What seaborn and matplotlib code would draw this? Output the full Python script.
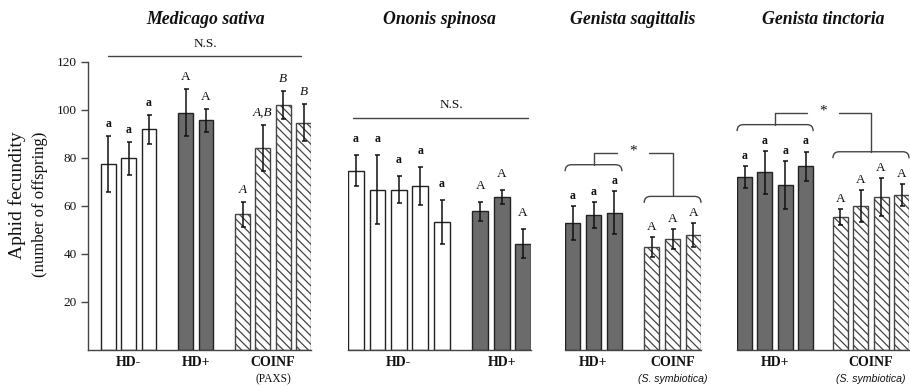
import numpy as np
import pandas as pd
import matplotlib
matplotlib.use("Agg")
import matplotlib.pyplot as plt
from matplotlib.path import Path
from matplotlib.patches import PathPatch
import seaborn as sns

# ---------------- data ----------------
titles = ["Medicago sativa", "Ononis spinosa", "Genista sagittalis", "Genista tinctoria"]
coinf_notes = ["(PAXS)", "(S. symbiotica)"]
ytick_values = [20, 40, 60, 80, 100, 120]
ylabel_lines = ["Aphid fecundity", "(number of offspring)"]
ns_text = "N.S."
sig_text = "*"

# Medicago sativa
ms_hdm = [77.5, 79.9, 92.0]
ms_hdm_err = [11.7, 6.8, 6.0]
ms_hdm_let = ["a", "a", "a"]
ms_hdp = [98.9, 95.7]
ms_hdp_err = [9.7, 4.9]
ms_hdp_let = ["A", "A"]
ms_coinf = [56.5, 84.2, 102.0, 94.7]
ms_coinf_err = [5.3, 9.7, 5.9, 7.7]
ms_coinf_let = ["A", "A,B", "B", "B"]

# Ononis spinosa
os_hdm = [74.7, 66.8, 66.8, 68.2, 53.2]
os_hdm_err = [6.5, 14.5, 5.6, 7.9, 9.2]
os_hdm_let = ["a", "a", "a", "a", "a"]
os_hdp = [57.8, 63.8, 44.3]
os_hdp_err = [4.0, 2.8, 6.0]
os_hdp_let = ["A", "A", "A"]

# Genista sagittalis
gs_hdp = [53.0, 56.3, 57.2]
gs_hdp_err = [7.1, 5.5, 9.0]
gs_hdp_let = ["a", "a", "a"]
gs_coinf = [43.0, 46.3, 47.9]
gs_coinf_err = [4.2, 4.2, 5.1]
gs_coinf_let = ["A", "A", "A"]

# Genista tinctoria
gt_hdp = [72.1, 74.0, 68.8, 76.5]
gt_hdp_err = [4.6, 8.9, 9.9, 6.1]
gt_hdp_let = ["a", "a", "a", "a"]
gt_coinf = [55.4, 59.9, 63.8, 64.6]
gt_coinf_err = [3.3, 6.6, 7.8, 4.4]
gt_coinf_let = ["A", "A", "A", "A"]

# ---------------- style ----------------
sns.set_style("white")
plt.rcParams["font.family"] = ["Liberation Serif", "DejaVu Serif"]
plt.rcParams["hatch.linewidth"] = 0.9
plt.rcParams["hatch.color"] = "#555555"

INK = "#111111"
LINE = "#444444"
BAR_W = 0.73
STYLE = {
    "HD-": dict(color="white", hatch=None, edge="#222222"),
    "HD+": dict(color="#6b6b6b", hatch=None, edge="#222222"),
    "COINF": dict(color="white", hatch="\\\\\\\\", edge="#444444"),
}

W, H = 910, 387
fig = plt.figure(figsize=(W / 100, H / 100), dpi=100)

panels = [
    dict(title=titles[0],
         groups=[("HD-", ms_hdm, ms_hdm_err, ms_hdm_let),
                 ("HD+", ms_hdp, ms_hdp_err, ms_hdp_let),
                 ("COINF", ms_coinf, ms_coinf_err, ms_coinf_let)],
         note=coinf_notes[0], left=88, width=223, lpad=1.0, gap=0.8, let_off=5.0,
         yaxis=True, ns=dict(y=122.5, ty=127.3, x0=0.0, x1=9.45, tx=4.75),
         sig=False, italic=("COINF",)),
    dict(title=titles[1],
         groups=[("HD-", os_hdm, os_hdm_err, os_hdm_let),
                 ("HD+", os_hdp, os_hdp_err, os_hdp_let)],
         note=None, left=348, width=183, lpad=0.37, gap=0.8, let_off=6.7,
         yaxis=False, ns=dict(y=96.7, ty=102.2, x0=-0.13, x1=8.04, tx=4.45),
         sig=False, italic=()),
    dict(title=titles[2],
         groups=[("HD+", gs_hdp, gs_hdp_err, gs_hdp_let),
                 ("COINF", gs_coinf, gs_coinf_err, gs_coinf_let)],
         note=coinf_notes[1], left=565, width=136, lpad=0.37, gap=0.8, let_off=4.2,
         yaxis=False, ns=None, sig=True, italic=()),
    dict(title=titles[3],
         groups=[("HD+", gt_hdp, gt_hdp_err, gt_hdp_let),
                 ("COINF", gt_coinf, gt_coinf_err, gt_coinf_let)],
         note=coinf_notes[1], left=737, width=172, lpad=0.37, gap=0.7, let_off=4.3,
         yaxis=False, ns=None, sig=True, italic=()),
]


def brace(ax, x0, x1, y, drop, r):
    verts = [(x0, y - drop), (x0, y), (x0 + r, y), (x1 - r, y), (x1, y), (x1, y - drop)]
    codes = [Path.MOVETO, Path.CURVE3, Path.CURVE3, Path.LINETO, Path.CURVE3, Path.CURVE3]
    ax.add_patch(PathPatch(Path(verts, codes), fill=False, edgecolor=LINE, lw=1.0,
                           clip_on=False))


for P in panels:
    ax = fig.add_axes([P["left"] / W, (H - 350) / H, P["width"] / W, 288 / H])
    ax.patch.set_alpha(0)
    start = 0.0
    centres, edges = [], []
    for kind, vals, errs, lets in P["groups"]:
        pos = start + np.arange(len(vals))
        df = pd.DataFrame({"pos": pos, "value": vals})
        st = STYLE[kind]
        sns.barplot(data=df, x="pos", y="value", native_scale=True, orient="x",
                    width=BAR_W, color=st["color"], saturation=1, errorbar=None,
                    edgecolor=st["edge"], linewidth=1.0, hatch=st["hatch"], ax=ax)
        ax.errorbar(pos, vals, yerr=errs, fmt="none", ecolor=INK, elinewidth=1.1,
                    capsize=1.8, capthick=1.1, zorder=4, clip_on=False)
        for x, v, e, t in zip(pos, vals, errs, lets):
            low = t.islower()
            ax.text(x, v + e + P["let_off"], t, ha="center", va="center",
                    fontsize=8.5 if low else 9.5,
                    fontweight="bold" if low else "normal",
                    fontstyle="italic" if kind in P["italic"] else "normal",
                    color=INK, clip_on=False)
        c = pos.mean()
        centres.append(c)
        edges.append((pos[0] - BAR_W / 2, pos[-1] + BAR_W / 2,
                      max(v + e for v, e in zip(vals, errs))))
        # group label
        ax.text(c, -5.0, kind, ha="center", va="center", fontsize=10,
                fontweight="bold", color=INK, clip_on=False)
        if kind == "COINF" and P["note"]:
            if P["note"] == coinf_notes[0]:
                ax.text(c, -12.0, P["note"], ha="center", va="center", fontsize=8.3,
                        color=INK, clip_on=False)
            else:
                ax.text(c, -12.0, P["note"], ha="center", va="center", fontsize=7.6,
                        fontstyle="italic",
                        family=["Liberation Sans", "DejaVu Sans"],
                        color=INK, clip_on=False)
        start = pos[-1] + 1 + P["gap"]

    x_lo, x_hi = -P["lpad"], edges[-1][1]
    ax.set_xlim(x_lo, x_hi)
    ax.set_ylim(0, 120)
    ax.set_xlabel("")
    ax.set_ylabel("")
    ax.set_xticks([])
    for s in ["top", "right"]:
        ax.spines[s].set_visible(False)
    ax.spines["bottom"].set_color(LINE)
    ax.spines["bottom"].set_linewidth(1.0)
    if P["yaxis"]:
        ax.set_yticks(ytick_values)
        ax.tick_params(axis="y", left=True, length=5, width=1.0, color=LINE,
                       labelsize=9.5, labelcolor=INK, pad=3)
        ax.spines["left"].set_color(LINE)
        ax.spines["left"].set_linewidth(1.0)
        ax.spines["left"].set_bounds(0, 120)
    else:
        ax.spines["left"].set_visible(False)
        ax.set_yticks([])

    # title
    bar_mid = (edges[0][0] + edges[-1][1]) / 2
    ax.text(bar_mid, 137.5, P["title"], ha="center", va="center", fontsize=12.8,
            fontweight="bold", fontstyle="italic", color=INK, clip_on=False)

    # N.S. line
    if P["ns"]:
        ns = P["ns"]
        ax.plot([ns["x0"], ns["x1"]], [ns["y"], ns["y"]], color=LINE, lw=1.0,
                clip_on=False)
        ax.text(ns["tx"], ns["ty"], ns_text, ha="center", va="center", fontsize=9.5,
                color=INK, clip_on=False)

    # significance brackets
    if P["sig"]:
        (l0, l1, lmax), (r0, r1, rmax) = edges
        cl, cr = centres
        yl, yr = lmax + 11, rmax + 11
        ytop = max(yl, yr) + 5
        brace(ax, l0, l1, yl, 2.7, 0.3)
        brace(ax, r0, r1, yr, 2.7, 0.3)
        xm = (cl + cr) / 2
        ax.plot([cl, cl, xm - 0.78], [yl, ytop, ytop], color=LINE, lw=1.0, clip_on=False)
        ax.plot([xm + 0.78, cr, cr], [ytop, ytop, yr], color=LINE, lw=1.0, clip_on=False)
        ax.text(xm, ytop + 0.8, sig_text, ha="center", va="center", fontsize=11,
                color=INK, clip_on=False)

# y label
fig.text(17 / W, 1 - 195 / H, ylabel_lines[0], rotation=90, ha="center", va="center",
         fontsize=14, color=INK)
fig.text(40 / W, 1 - 204 / H, ylabel_lines[1], rotation=90, ha="center", va="center",
         fontsize=12, color=INK)

fig.savefig("out.png", dpi=100)
